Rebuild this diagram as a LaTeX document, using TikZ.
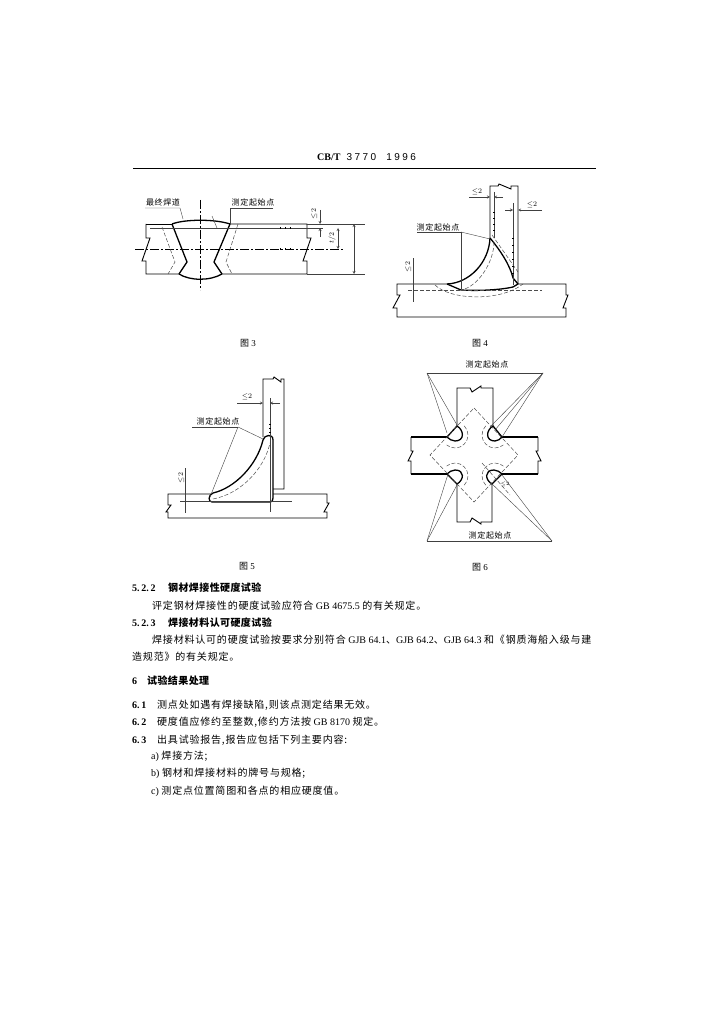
\documentclass[tikz,border=0pt]{standalone}
\usepackage{fontspec}
\setmainfont{Liberation Serif}
\newfontfamily\cjk[LetterSpace=8]{Noto Sans CJK SC}
\newfontfamily\cjkhead[LetterSpace=4]{Noto Sans CJK SC}
\newfontfamily\digits[LetterSpace=25]{Liberation Sans}
\newcommand{\zh}[1]{{\cjk #1}}
\newcommand{\zhb}[1]{{\cjkhead\bfseries #1}}
\newcommand{\lmax}{${\leq}2$}
\tikzset{
  plate/.style={black, line width=0.9pt},
  weld/.style={black, line width=1.3pt},
  thin/.style={black!75, line width=0.4pt},
  probe/.style={black!70, line width=0.5pt, dash pattern=on 4pt off 2pt},
  axis/.style={black, line width=0.5pt, dash pattern=on 9pt off 2pt on 2pt off 2pt},
  tick/.style={black, line width=0.7pt},
  para/.style={anchor=west, inner sep=0pt, font=\fontsize{10}{12}\selectfont},
  callout/.style={inner sep=0pt, font=\fontsize{8}{10}\selectfont\cjk},
  dim/.style={inner sep=0pt, font=\fontsize{7}{8}\selectfont},
  caption/.style={inner sep=0pt, font=\fontsize{9}{10}\selectfont}
}
\begin{document}
\begin{tikzpicture}[x=1pt,y=-1pt]
\useasboundingbox (0,0) rectangle (725,1024);
\node [para] (header) at (317,157) {\textbf{CB/T}\hspace{6pt}{\digits 3770}\hspace{10pt}{\digits 1996}};
\draw [black, line width=0.8pt] (133,168) -- (596,168);

\node [callout] (f3a) at (163,202) {最终焊道};
\node [callout] (f3b) at (253,202) {测定起始点};
\node [dim, rotate=90] (f3c) at (314,214) {\lmax};
\node [dim, rotate=90] (f3d) at (332,238) {$t/2$};
\node [caption] (f3cap) at (248,343) {\zh{图} 3};
\draw [plate] (146,224) -- (146,238) -- (150,238) -- (142,261) -- (146,261) -- (146,274) -- (179,274);
\draw [plate] (222,274) -- (307,274) -- (307,261) -- (303,261) -- (311,238) -- (307,238) -- (307,224) -- (230,224);
\draw [plate] (146,224) -- (172,224);
\draw [weld] (172,224) .. controls (185,219) and (215,219) .. (230,224);
\draw [weld] (179,274) .. controls (190,281) and (210,281) .. (222,274);
\draw [weld] (172,224) -- (187,262) -- (179,274);
\draw [weld] (230,224) -- (214,262) -- (222,274);
\draw [axis] (200,200) -- (200,290);
\draw [axis] (135,249) -- (343,249);
\draw [thin] (150,228) -- (323,228);
\draw [probe] (162,227) -- (175,262) -- (168,274);
\draw [probe] (238,224) -- (226,262) -- (232,274);
\draw [thin] (212,216) -- (217,228);
\draw [thin] (145,208) -- (180,208) -- (183,219);
\draw [thin] (273,208) -- (230,208) -- (230,224);
\draw [thin] (307,224) -- (365,224);
\draw [thin] (307,274) -- (365,274);
\draw [thin, <->, >=stealth] (338,228) -- (338,249);
\draw [thin, <->, >=stealth] (354,224) -- (354,274);
\draw [thin, ->, >=stealth] (320,210) -- (320,224);
\draw [thin, ->, >=stealth] (320,237) -- (320,228);
\foreach \x in {280,285,290} {
  \draw [tick] (\x,227) -- (\x,229);
  \draw [tick] (\x,248) -- (\x,250);
}

\node [callout] (f4a) at (438,227) {测定起始点};
\node [dim] (f4b) at (477,192) {\lmax};
\node [dim] (f4c) at (532,205) {\lmax};
\node [dim, rotate=90] (f4d) at (408,267) {\lmax};
\node [caption] (f4cap) at (480,343) {\zh{图} 4};
\draw [plate] (490,238) -- (490,186) -- (498,186) -- (499,184) -- (511,189) -- (511,186) -- (518,186) -- (518,284);
\draw [plate] (447,284) -- (397,284) -- (397,295) -- (400,295) -- (393,308) -- (397,308) -- (397,317) -- (566,317) -- (566,308) -- (563,308) -- (568,295) -- (566,295) -- (566,284) -- (518,284);
\draw [weld] (490,238) .. controls (489,262) and (470,283) .. (447,284);
\draw [weld] (490,238) .. controls (500,250) and (510,265) .. (513,278) -- (518,284);
\draw [weld] (447,284) -- (461,290) .. controls (478,291) and (500,290) .. (513,287) -- (518,284);
\draw [thin] (494,192) -- (494,238);
\draw [thin] (513,203) -- (513,285);
\draw [probe] (494,242) .. controls (494,262) and (478,287) .. (461,290);
\draw [probe] (408,290) -- (542,290);
\draw [probe] (435,285) .. controls (450,300) and (500,302) .. (523,284);
\draw [probe] (492,235) -- (518,272);
\draw [thin, ->, >=stealth] (469,197) -- (490,197);
\draw [thin, ->, >=stealth] (503,197) -- (494,197);
\draw [thin, ->, >=stealth] (542,210) -- (518,210);
\draw [thin, ->, >=stealth] (505,210) -- (513,210);
\draw [thin] (413,258) -- (413,302);
\draw [thin] (417,232) -- (461,232) -- (461,289);
\draw [thin] (461,232) -- (490,239);
\foreach \y in {212,218,224,230} {
  \draw [tick] (493,\y) -- (495,\y);
}
\foreach \y in {238,245,252,259,266,273} {
  \draw [tick] (512,\y) -- (514,\y);
}

\node [callout] (f5a) at (218,421) {测定起始点};
\node [dim] (f5b) at (247,397) {\lmax};
\node [dim, rotate=90] (f5c) at (181,478) {\lmax};
\node [caption] (f5cap) at (247,566) {\zh{图} 5};
\draw [plate] (263,437) -- (263,379) -- (273,379) -- (274,377) -- (281,382) -- (281,379) -- (284,379) -- (284,489) -- (273,489);
\draw [plate] (211,494) -- (168,494) -- (168,505) -- (171,505) -- (166,512) -- (168,512) -- (168,518) -- (327,518) -- (327,512) -- (324,512) -- (329,503) -- (327,503) -- (327,494) -- (273,494);
\draw [weld] (213,493) .. controls (235,488) and (257,465) .. (263,440) .. controls (264,435) and (273,433) .. (273,440) -- (273,498) .. controls (273,501) and (272,502) .. (270,502) -- (212,502) .. controls (208,502) and (208,495) .. (213,493);
\draw [probe] (213,499) .. controls (240,494) and (264,470) .. (270,443);
\draw [thin] (270,398) -- (270,512);
\draw [thin] (180,501) -- (292,501);
\draw [thin] (185,468) -- (185,513);
\draw [thin, ->, >=stealth] (237,403) -- (263,403);
\draw [thin, ->, >=stealth] (280,403) -- (270,403);
\draw [thin] (192,427) -- (238,427);
\draw [thin] (238,427) -- (263,439);
\draw [thin] (238,427) -- (210,497);
\foreach \y in {424,428,432} {
  \draw [tick] (269,\y) -- (271,\y);
}

\node [callout] (f6a) at (487,364) {测定起始点};
\node [callout] (f6b) at (490,535) {测定起始点};
\node [dim, font=\fontsize{5}{6}\selectfont] (f6c) at (505,484) {\lmax};
\node [caption] (f6cap) at (480,567) {\zh{图} 6};
\draw [plate] (457,426) -- (457,388) -- (470,388) -- (472,392) -- (481,386) -- (481,388) -- (493,388) -- (493,426);
\draw [plate] (457,484) -- (457,522) -- (470,522) -- (472,518) -- (481,524) -- (481,522) -- (492,522) -- (492,484);
\draw [weld] (447,437) -- (411,437);
\draw [weld] (502,437) -- (538,437);
\draw [weld] (447,474) -- (411,474);
\draw [weld] (502,474) -- (538,474);
\draw [plate] (411,437) -- (411,451) -- (413,451) -- (408,461) -- (411,461) -- (411,474);
\draw [plate] (538,437) -- (538,451) -- (536,451) -- (541,461) -- (538,461) -- (538,474);
\draw [weld] (447,437) -- (457,426) .. controls (464,430) and (465,441) .. (455,441) .. controls (452,441) and (449,439) .. (447,437);
\draw [weld] (502,437) -- (493,426) .. controls (486,430) and (485,441) .. (495,441) .. controls (498,441) and (500,439) .. (502,437);
\draw [weld] (447,474) -- (457,484) .. controls (464,480) and (465,470) .. (455,470) .. controls (452,470) and (449,472) .. (447,474);
\draw [weld] (502,474) -- (492,484) .. controls (485,480) and (484,470) .. (494,470) .. controls (497,470) and (500,472) .. (502,474);
\draw [probe] (474,408) -- (518,455) -- (474,502) -- (430,455) -- cycle;
\draw [probe] (455,435) ++(-45:13) arc (-45:130:13);
\draw [probe] (495,435) ++(225:13) arc (225:50:13);
\draw [probe] (455,476) ++(45:13) arc (45:-130:13);
\draw [probe] (495,476) ++(135:13) arc (135:310:13);
\draw [thin] (427,373) -- (543,373);
\draw [thin] (427,373) -- (447,433);
\draw [thin] (427,373) -- (457,425);
\draw [thin] (543,373) -- (490,427);
\draw [thin] (543,373) -- (495,430);
\draw [thin] (543,373) -- (502,437);
\draw [thin] (427,541) -- (552,541);
\draw [thin] (427,541) -- (448,474);
\draw [thin] (427,541) -- (457,485);
\draw [thin] (552,541) -- (490,482);
\draw [thin] (552,541) -- (502,475);
\draw [probe] (482,463) -- (510,495);

\node [para, font=\fontsize{10}{12}\selectfont\bfseries] (s522) at (132,588) {\makebox[36pt][l]{5.\,2.\,2}\zhb{钢材焊接性硬度试验}};
\node [para] (t522) at (152,606) {\zh{评定钢材焊接性的硬度试验应符合} GB 4675.5 \zh{的有关规定。}};
\node [para, font=\fontsize{10}{12}\selectfont\bfseries] (s523) at (132,623) {\makebox[36pt][l]{5.\,2.\,3}\zhb{焊接材料认可硬度试验}};
\node [para] (t523) at (152,640) {\zh{焊接材料认可的硬度试验按要求分别符合} GJB 64.1\zh{、}GJB 64.2\zh{、}GJB 64.3 \zh{和《钢质海船入级与建}};
\node [para] (t523b) at (132,657) {\zh{造规范》的有关规定。}};
\node [para, font=\fontsize{10}{12}\selectfont\bfseries] (s6) at (132,681) {\makebox[15pt][l]{6}\zhb{试验结果处理}};
\node [para] (s61) at (132,705) {\makebox[25pt][l]{\textbf{6.\,1}}\zh{测点处如遇有焊接缺陷,则该点测定结果无效。}};
\node [para] (s62) at (132,722) {\makebox[25pt][l]{\textbf{6.\,2}}\zh{硬度值应修约至整数,修约方法按} GB 8170 \zh{规定。}};
\node [para] (s63) at (132,740) {\makebox[25pt][l]{\textbf{6.\,3}}\zh{出具试验报告,报告应包括下列主要内容:}};
\node [para] (ia) at (151,756) {a) \zh{焊接方法;}};
\node [para] (ib) at (151,773) {b) \zh{钢材和焊接材料的牌号与规格;}};
\node [para] (ic) at (151,791) {c) \zh{测定点位置简图和各点的相应硬度值。}};
\end{tikzpicture}
\end{document}
